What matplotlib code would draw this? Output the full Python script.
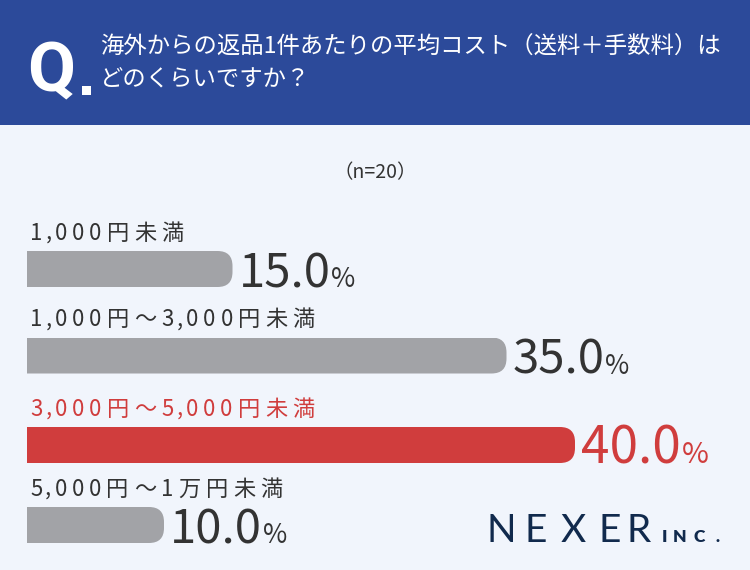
import matplotlib
matplotlib.use("Agg")
import matplotlib.pyplot as plt
from matplotlib.patches import Rectangle, FancyBboxPatch

plt.rcParams['font.family'] = ['Noto Sans CJK JP', 'DejaVu Sans']

# data
categories = ['1,000円未満', '1,000円～3,000円未満', '3,000円～5,000円未満', '5,000円～1万円未満']
shares = [15.0, 35.0, 40.0, 10.0]
highlight = 2
title_lines = ['海外からの返品1件あたりの平均コスト（送料＋手数料）は', 'どのくらいですか？']
sample_note = '（n=20）'

HEADER = '#2c4a9a'
BG = '#f1f5fc'
GRAY = '#a2a3a7'
RED = '#d03d3d'
TEXT = '#333333'
NAVY = '#112a4d'

W, H = 750, 570
px_per_pct = 13.7
row_y = [269, 355.5, 445, 525]
bar_h = 36
radius = 15

fig = plt.figure(figsize=(W / 100, H / 100), dpi=100, facecolor=BG)

bg = fig.add_axes([0, 0, 1, 1])
bg.set_xlim(0, W)
bg.set_ylim(H, 0)
bg.axis('off')
bg.add_patch(Rectangle((0, 0), W, 125, color=HEADER, lw=0))

# header
bg.text(27, 91, 'Q', color='white', fontsize=50, fontweight='bold',
        family=['Roboto', 'DejaVu Sans'], va='baseline', ha='left')
bg.add_patch(Rectangle((82, 86), 9, 9, color='white', lw=0))
bg.text(100, 47, title_lines[0], color='white', fontsize=16.8, va='center', ha='left')
bg.text(100, 80, title_lines[1], color='white', fontsize=16.8, va='center', ha='left')

bg.text(375, 178, sample_note, color=TEXT, fontsize=14, ha='center', va='baseline')

# logo
for ch, x in zip('NEXER', [487, 525, 561, 598, 626]):
    bg.text(x, 542, ch, color=NAVY, fontsize=28, family=['Lato', 'DejaVu Sans'],
            va='baseline', ha='left')
for ch, x in zip('INC.', [662, 673, 693, 715]):
    bg.text(x, 542, ch, color=NAVY, fontsize=12.5, family=['Lato', 'DejaVu Sans'],
            fontweight='heavy', va='baseline', ha='left')

# bars
x0 = 27
ax = fig.add_axes([x0 / W, 0, (W - x0) / W, 1])
ax.set_xlim(0, (W - x0) / px_per_pct)
ax.set_ylim(H, 0)
ax.axis('off')
ax.patch.set_visible(False)

colors = [RED if i == highlight else GRAY for i in range(len(shares))]
bars = ax.barh(row_y, shares, height=bar_h, color=colors, lw=0)
rx = radius / px_per_pct
for b in bars:
    clip = FancyBboxPatch((b.get_x() - rx, b.get_y()), b.get_width() + rx, b.get_height(),
                          boxstyle=f'round,pad=0,rounding_size={rx}',
                          mutation_aspect=px_per_pct, transform=ax.transData)
    b.set_clip_path(clip)


def spaced(s, y, track, **kw):
    t = ax.annotate(s[0], xy=(0, y), xycoords='data', xytext=(3, 0),
                    textcoords='offset pixels', va='baseline', ha='left', **kw)
    for ch in s[1:]:
        gap = track - 2 if ch == ',' or t.get_text() == ',' else track
        t = ax.annotate(ch, xy=(1, y), xycoords=(t, ax.transData), xytext=(gap, 0),
                        textcoords='offset pixels', va='baseline', ha='left', **kw)
    return t


for i, (cat, v, y) in enumerate(zip(categories, shares, row_y)):
    hi = i == highlight
    col = RED if hi else TEXT
    spaced(cat, y - 29, 5, color=col, fontsize=16)
    num = ax.annotate(f'{v:.1f}', xy=(v, y + bar_h / 2), xycoords='data',
                      xytext=(6, 0), textcoords='offset pixels', va='baseline', ha='left',
                      color=col, fontsize=37 if hi else 34)
    ax.annotate('%', xy=(1, y + bar_h / 2), xycoords=(num, ax.transData),
                xytext=(1, 0), textcoords='offset pixels', va='baseline', ha='left',
                color=col, fontsize=21 if hi else 19)

fig.savefig('out.png', dpi=100, facecolor=BG)
